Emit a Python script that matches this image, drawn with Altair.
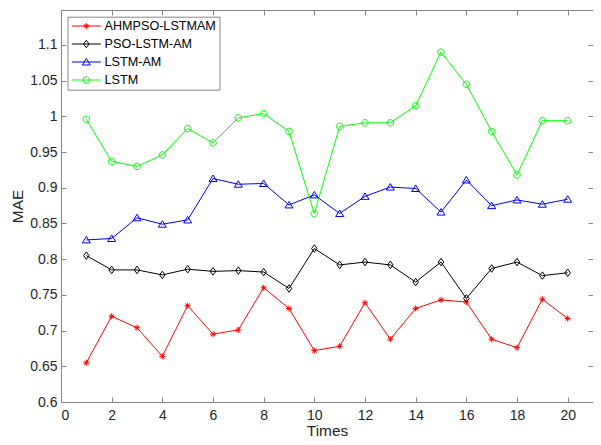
import altair as alt
import pandas as pd

# ---------------- data ----------------
times = list(range(1, 21))
series_names = ["AHMPSO-LSTMAM", "PSO-LSTM-AM", "LSTM-AM", "LSTM"]
ahmpso = [0.655, 0.720, 0.704, 0.664, 0.735, 0.695, 0.701, 0.760, 0.731, 0.672,
          0.678, 0.739, 0.688, 0.731, 0.743, 0.740, 0.688, 0.676, 0.744, 0.717]
pso = [0.805, 0.785, 0.785, 0.778, 0.786, 0.783, 0.784, 0.782, 0.759, 0.815,
       0.792, 0.796, 0.792, 0.768, 0.796, 0.745, 0.787, 0.796, 0.777, 0.781]
lstm_am = [0.827, 0.829, 0.858, 0.849, 0.855, 0.913, 0.905, 0.906, 0.876, 0.890,
           0.864, 0.888, 0.901, 0.899, 0.866, 0.911, 0.875, 0.883, 0.877, 0.884]
lstm = [0.996, 0.937, 0.930, 0.946, 0.983, 0.963, 0.998, 1.004, 0.979, 0.864,
        0.986, 0.991, 0.991, 1.015, 1.090, 1.045, 0.979, 0.918, 0.994, 0.994]

x_ticks = [0, 2, 4, 6, 8, 10, 12, 14, 16, 18, 20]
y_ticks = [0.6, 0.65, 0.7, 0.75, 0.8, 0.85, 0.9, 0.95, 1.0, 1.05, 1.1]

colors = ["#FF0000", "#000000", "#0000FF", "#00FF00"]

# marker shapes (unit = sqrt(size)/2 px)
asterisk = "M-0.6,0L0.6,0M0,-0.6L0,0.6M-0.42,-0.42L0.42,0.42M-0.42,0.42L0.42,-0.42"
diamond = "M0,-0.75L0.55,0L0,0.75L-0.55,0Z"
triangle = "M0,-0.7L0.8,0.6L-0.8,0.6Z"
circle = "M0.65,0A0.65,0.65 0 1,1 -0.65,0A0.65,0.65 0 1,1 0.65,0Z"
marker_paths = [asterisk, diamond, triangle, circle]
seg = "M-2.9,0L2.9,0"
legend_paths = [seg + p for p in marker_paths]

series_values = [ahmpso, pso, lstm_am, lstm]
rows = []
for name, vals in zip(series_names, series_values):
    for t, v in zip(times, vals):
        rows.append({"time": t, "mae": v, "series": name})
df = pd.DataFrame(rows)

# ---------------- style ----------------
FONT = "Liberation Sans"
AX = "#868686"
TXT = "#262626"
x_dom = [0, 21]
y_dom = [0.6, 1.149]

xs = alt.Scale(domain=x_dom, nice=False, zero=False)
ys = alt.Scale(domain=y_dom, nice=False, zero=False)
color_scale = alt.Scale(domain=series_names, range=colors)
shape_scale = alt.Scale(domain=series_names, range=marker_paths)
legend_shape_scale = alt.Scale(domain=series_names, range=legend_paths)

common_axis = dict(grid=False, domain=False, offset=-5, tickSize=5, tickColor=AX,
                   tickWidth=1, labelFont=FONT, labelFontSize=14, labelColor=TXT,
                   titleFont=FONT, titleFontSize=15.4, titleFontWeight="normal",
                   titleColor=TXT)

base = alt.Chart(df)

lines = base.mark_line(strokeWidth=1).encode(
    x=alt.X("time:Q", scale=xs,
            axis=alt.Axis(orient="bottom", values=x_ticks, title="Times",
                          labelPadding=6, titlePadding=1, **common_axis)),
    y=alt.Y("mae:Q", scale=ys,
            axis=alt.Axis(orient="left", values=y_ticks, format=".2~f", title="MAE",
                          labelPadding=4, titlePadding=4, **common_axis)),
    color=alt.Color("series:N", scale=color_scale, legend=None),
)

points = base.mark_point(filled=False, size=100, strokeWidth=1, opacity=1).encode(
    x=alt.X("time:Q", scale=xs, axis=None),
    y=alt.Y("mae:Q", scale=ys, axis=None),
    color=alt.Color("series:N", scale=color_scale, legend=None),
    shape=alt.Shape("series:N", scale=shape_scale, legend=None),
)

legend_cfg = dict(orient="none", legendX=6.5, legendY=6.7, title=None, padding=3,
                  symbolSize=100, symbolOffset=9.5, labelOffset=12, rowPadding=5,
                  labelFont=FONT, labelFontSize=12.6, labelColor="#000000",
                  strokeColor=AX, fillColor="white", symbolStrokeWidth=1,
                  cornerRadius=0, labelLimit=300)

legend_layer = base.transform_filter("datum.time < 0").mark_point(
    filled=False, size=100, strokeWidth=1, opacity=1
).encode(
    x=alt.X("time:Q", scale=xs,
            axis=alt.Axis(orient="top", values=x_ticks, labels=False, title=None,
                          grid=False, domain=False, offset=-5, tickSize=5,
                          tickColor=AX, tickWidth=1)),
    y=alt.Y("mae:Q", scale=ys,
            axis=alt.Axis(orient="right", values=y_ticks, labels=False, title=None,
                          grid=False, domain=False, offset=-5, tickSize=5,
                          tickColor=AX, tickWidth=1)),
    color=alt.Color("series:N", scale=color_scale, legend=alt.Legend(**legend_cfg)),
    shape=alt.Shape("series:N", scale=legend_shape_scale, legend=alt.Legend(**legend_cfg)),
)

chart = alt.layer(lines, points, legend_layer).resolve_scale(
    x="independent", y="independent", color="independent", shape="independent"
).properties(
    width=532, height=392,
    padding={"left": 53, "top": 2, "right": 0, "bottom": 35},
    autosize=alt.AutoSizeParams(type="none"),
    background="white",
).configure_view(stroke=AX, strokeWidth=1)

chart.save("out.html", embed_options={"renderer": "svg", "actions": False})
